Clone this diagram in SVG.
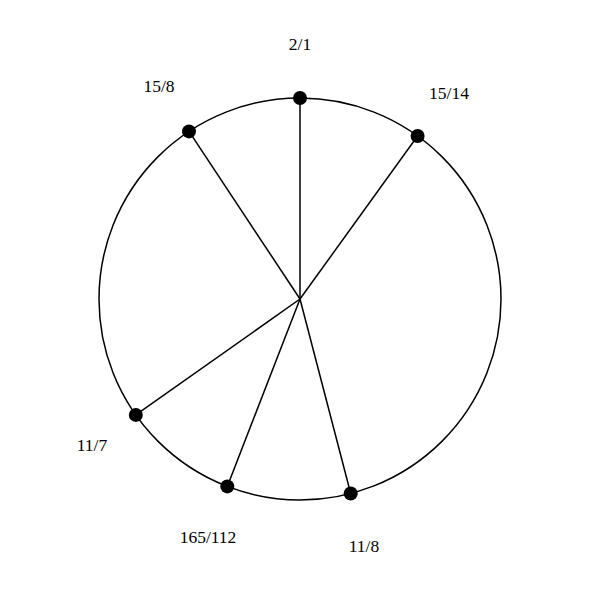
<svg xmlns="http://www.w3.org/2000/svg" width="600" height="600" viewBox="0 0 600 600">
<style>
.ring{fill:none;stroke:#000;stroke-width:1.5}
.spoke{stroke:#000;stroke-width:1.5}
.dot{fill:#000}
.lbl{font-family:"Liberation Serif","Times New Roman",serif;font-size:17.5px;fill:#000;text-anchor:middle}
</style>
<rect width="600" height="600" fill="#fff"/>
<circle class="ring" cx="300" cy="299" r="201"/>
<g id="connectors">
<line class="spoke" x1="300" y1="299" x2="300" y2="98"/>
<line class="spoke" x1="300" y1="299" x2="417.6" y2="136"/>
<line class="spoke" x1="300" y1="299" x2="350.7" y2="493.5"/>
<line class="spoke" x1="300" y1="299" x2="227.3" y2="486.4"/>
<line class="spoke" x1="300" y1="299" x2="135.8" y2="414.9"/>
<line class="spoke" x1="300" y1="299" x2="189" y2="131.4"/>
</g>
<g id="n-2-1"><circle class="dot" cx="300" cy="98" r="7"/><text class="lbl" x="300" y="50">2/1</text></g>
<g id="n-15-14"><circle class="dot" cx="417.6" cy="136" r="7"/><text class="lbl" x="449" y="98.5">15/14</text></g>
<g id="n-11-8"><circle class="dot" cx="350.7" cy="493.5" r="7"/><text class="lbl" x="364" y="551.5">11/8</text></g>
<g id="n-165-112"><circle class="dot" cx="227.3" cy="486.4" r="7"/><text class="lbl" x="208" y="542.5">165/112</text></g>
<g id="n-11-7"><circle class="dot" cx="135.8" cy="414.9" r="7"/><text class="lbl" x="92" y="450.5">11/7</text></g>
<g id="n-15-8"><circle class="dot" cx="189" cy="131.4" r="7"/><text class="lbl" x="159" y="92">15/8</text></g>
</svg>
